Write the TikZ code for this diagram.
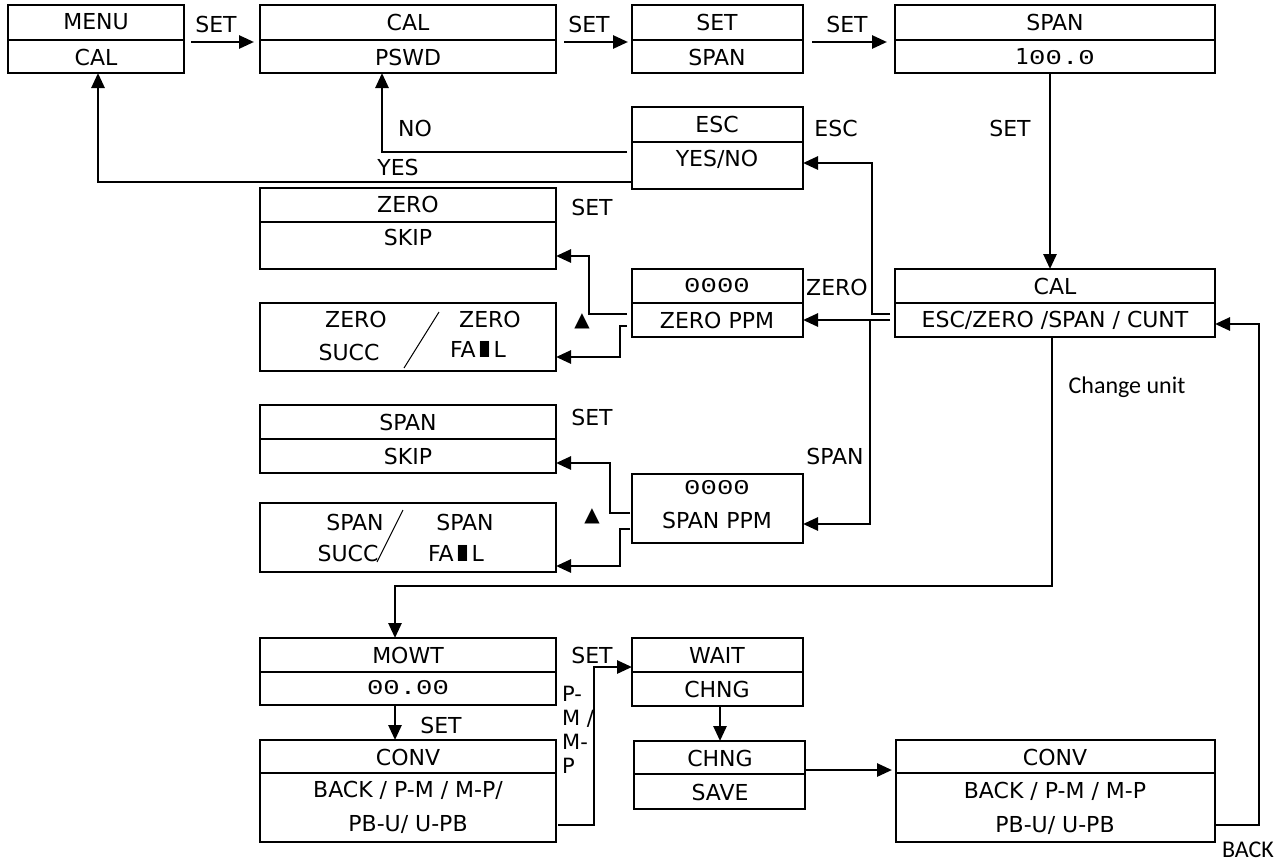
\documentclass[tikz,border=0pt]{standalone}
\usepackage{fontspec}
\usepackage{graphicx}
\setmainfont{DejaVu Sans}
\newfontfamily\calfont{Carlito}
\newfontfamily\lcdfont{Liberation Mono}
\usetikzlibrary{arrows.meta,calc}
\newcommand\heavyI{\scalebox{2.2}[1]{\bfseries I}}
\newcommand\lcd[1]{{\lcdfont\fontsize{21}{24}\selectfont\scalebox{1.3}[1]{#1}}}
\tikzset{
  boxst/.style={draw, line width=1.3pt, inner sep=0pt, outer sep=0pt},
  divst/.style={line width=1.3pt},
  conn/.style={line width=2.7pt},
  arr/.style={conn, -{Triangle[length=15pt,width=13pt]}},
  txt/.style={inner sep=0pt, font=\fontsize{22}{25}\selectfont},
  clbl/.style={inner sep=0pt, font=\calfont\fontsize{24}{28}\selectfont},
  tri/.style={inner sep=0pt, font=\fontsize{20}{22}\selectfont},
}
\newcommand\tbox[5]{\node[boxst, minimum width={#4-#2}, minimum height={#5-#3}] (#1) at ({(#2+#4)/2},{(#3+#5)/2}) {};}
\newcommand\tdiv[2]{\draw[divst] (#1.west|-0,#2) -- (#1.east|-0,#2);}
\begin{document}
\begin{tikzpicture}[x=1pt,y=-1pt]
\fill[white] (0,0) rectangle (1287,863);
\useasboundingbox (0,0) rectangle (1287,863);

% ---------- boxes ----------
\tbox{menu}{8}{5}{184}{73}\tdiv{menu}{40}
\node[txt] (menu1) at (96,22) {MENU};
\node[txt] (menu2) at (96,57) {CAL};

\tbox{pswd}{260}{5}{556}{73}\tdiv{pswd}{40}
\node[txt] (pswd1) at (408,22) {CAL};
\node[txt] (pswd2) at (408,57) {PSWD};

\tbox{setspan}{632}{5}{803}{73}\tdiv{setspan}{40}
\node[txt] (setspan1) at (717,22) {SET};
\node[txt] (setspan2) at (717,57) {SPAN};

\tbox{span}{895}{5}{1215}{73}\tdiv{span}{40}
\node[txt] (span1) at (1055,22) {SPAN};
\node[txt] (span2) at (1055,57) {1\lcd{00.0}};

\tbox{esc}{632}{107}{803}{189}\tdiv{esc}{142}
\node[txt] (esc1) at (717,124) {ESC};
\node[txt] (esc2) at (717,159) {YES/NO};

\tbox{zskip}{260}{188}{556}{269}\tdiv{zskip}{222}
\node[txt] (zskip1) at (408,204) {ZERO};
\node[txt] (zskip2) at (408,237) {SKIP};

\tbox{zppm}{632}{269}{803}{337}\tdiv{zppm}{303}
\node[txt] (zppm1) at (717,286) {\lcd{0000}};
\node[txt] (zppm2) at (717,320) {ZERO PPM};

\tbox{zres}{260}{303}{556}{371}
\node[txt] (zres1) at (356,319) {ZERO};
\node[txt] (zres2) at (490,319) {ZERO};
\node[txt] (zres3) at (349,352) {SUCC};
\node[txt] (zres4) at (478,349) {FA\heavyI L};
\draw[line width=1pt] (404,368) -- (439,312);

\tbox{cal}{895}{269}{1215}{337}\tdiv{cal}{303}
\node[txt] (cal1) at (1055,286) {CAL};
\node[txt] (cal2) at (1055,320) {ESC/ZERO /SPAN / CUNT};

\tbox{sskip}{260}{405}{556}{473}\tdiv{sskip}{439}
\node[txt] (sskip1) at (408,422) {SPAN};
\node[txt] (sskip2) at (408,456) {SKIP};

\tbox{sppm}{632}{474}{803}{543}
\node[txt] (sppm1) at (717,488) {\lcd{0000}};
\node[txt] (sppm2) at (717,520) {SPAN PPM};

\tbox{sres}{260}{503}{556}{572}
\node[txt] (sres1) at (355,522) {SPAN};
\node[txt] (sres2) at (465,522) {SPAN};
\node[txt] (sres3) at (348,553) {SUCC};
\node[txt] (sres4) at (456,553) {FA\heavyI L};
\draw[line width=1pt] (377,562) -- (403,510);

\tbox{mowt}{260}{638}{556}{705}\tdiv{mowt}{672}
\node[txt] (mowt1) at (408,655) {MOWT};
\node[txt] (mowt2) at (408,688) {\lcd{00.00}};

\tbox{conva}{260}{740}{556}{842}\tdiv{conva}{773}
\node[txt] (conva1) at (408,757) {CONV};
\node[txt] (conva2) at (408,790) {BACK / P-M / M-P/};
\node[txt] (conva3) at (408,824) {PB-U/ U-PB};

\tbox{wait}{632}{638}{803}{706}\tdiv{wait}{672}
\node[txt] (wait1) at (717,655) {WAIT};
\node[txt] (wait2) at (717,689) {CHNG};

\tbox{save}{634}{741}{805}{809}\tdiv{save}{774}
\node[txt] (save1) at (720,758) {CHNG};
\node[txt] (save2) at (720,792) {SAVE};

\tbox{convb}{896}{740}{1215}{842}\tdiv{convb}{773}
\node[txt] (convb1) at (1055,757) {CONV};
\node[txt] (convb2) at (1055,791) {BACK / P-M / M-P};
\node[txt] (convb3) at (1055,825) {PB-U/ U-PB};

% ---------- connectors ----------
\draw[arr] ($(menu.east)+(7,3)$) -- ($(pswd.west)+(-6,3)$);
\draw[arr] ($(pswd.east)+(8,3)$) -- ($(setspan.west)+(-4,3)$);
\draw[arr] ($(setspan.east)+(9,3)$) -- ($(span.west)+(-8,3)$);
\draw[arr] ($(span.south)+(-5,0)$) -- ($(cal.north)+(-5,0)$);

\draw[arr] ($(esc.west|-0,152)+(-5,0)$) -| (pswd.south -| 382,0);
\draw[arr] (esc.west|-0,182) -| (menu.south -| 98,0);

\draw[arr] ($(cal.west|-0,314)+(-5,0)$) -- (872,314) -- (872,163) -- (esc.east|-0,163);
\draw[arr] ($(cal.west|-0,320)+(-5,0)$) -- (zppm.east|-0,320);
\coordinate (j1) at (870,320);
\draw[arr] (j1) -- (870,524) -- (sppm.east|-0,524);

\draw[arr] ($(zppm.west|-0,314)+(-5,0)$) -- (589,314) -- (589,256) -- (zskip.east|-0,256);
\draw[arr] ($(zppm.west|-0,326)+(-5,0)$) -- (620,326) -- (620,357) -- (zres.east|-0,357);
\draw[arr] ($(sppm.west|-0,513)+(-2,0)$) -- (610,513) -- (610,463) -- (sskip.east|-0,463);
\draw[arr] ($(sppm.west|-0,529)+(-2,0)$) -- (620,529) -- (620,566) -- (sres.east|-0,566);

\draw[arr] ($(cal.south)+(-3,0)$) |- (395,586) -- (mowt.north -| 395,0);
\draw[arr] (mowt.south -| 395,0) -- (conva.north -| 395,0);
\draw[arr] ($(conva.east|-0,825)+(2,0)$) -- (594,825) -- (594,667) -- (wait.west|-0,667);
\draw[arr] (wait.south -| 720,0) -- (save.north -| 720,0);
\draw[arr] (save.east|-0,770) -- ($(convb.west|-0,770)+(-4,0)$);
\draw[arr] (convb.east|-0,825) -- (1259,825) -- (1259,324) -- (cal.east|-0,324);

% ---------- labels ----------
\node[txt] (l1) at (216,24) {SET};
\node[txt] (l2) at (589,24) {SET};
\node[txt] (l3) at (847,24) {SET};
\node[txt] (l4) at (1010,128) {SET};
\node[txt] (l5) at (592,207) {SET};
\node[txt] (l6) at (592,417) {SET};
\node[txt] (l7) at (441,725) {SET};
\node[txt] (l8) at (592,655) {SET};
\node[txt] (lno) at (415,128) {NO};
\node[txt] (lyes) at (398,167) {YES};
\node[txt] (lesc) at (836,128) {ESC};
\node[txt] (lzero) at (837,287) {ZERO};
\node[txt] (lspan) at (835,456) {SPAN};
\node[tri] (up1) at (582,321) {▲};
\node[tri] (up2) at (592,516) {▲};
\node[txt, font=\fontsize{21}{24}\selectfont, align=left, anchor=north west] (lpm) at (562,686) {P-\\M /\\M-\\P};
\node[clbl] (lcu) at (1127,387) {Change unit};
\node[clbl] (lback) at (1248,850) {BACK};
\end{tikzpicture}
\end{document}
